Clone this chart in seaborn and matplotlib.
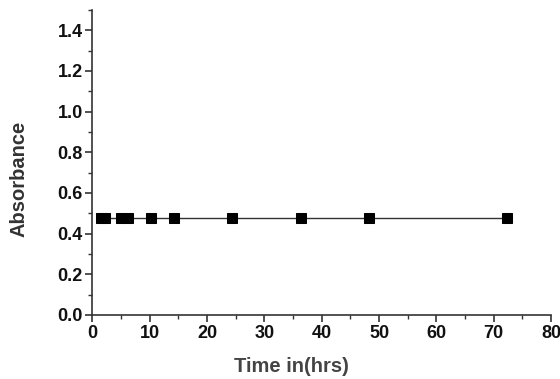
import matplotlib
matplotlib.use("Agg")
import matplotlib.pyplot as plt
import seaborn as sns
import pandas as pd
from matplotlib.ticker import MultipleLocator

time_hrs = [1.5, 2.2, 5.0, 6.2, 10.3, 14.2, 24.3, 36.3, 48.3, 72.3]
absorbance = [0.475, 0.475, 0.475, 0.475, 0.475, 0.475, 0.475, 0.475, 0.475, 0.475]
df = pd.DataFrame({"Time in(hrs)": time_hrs, "Absorbance": absorbance})

sns.set_style("ticks")
plt.rcParams["font.family"] = ["Liberation Sans", "DejaVu Sans"]

fig = plt.figure(figsize=(5.6, 3.79), dpi=100)
ax = fig.add_axes([0.165, 0.169, 0.819, 0.805])

sns.lineplot(data=df, x="Time in(hrs)", y="Absorbance", ax=ax, color="#333333",
             linewidth=1.0, marker="s", markersize=7.5, markerfacecolor="black",
             markeredgecolor="black", estimator=None, sort=True)

ax.set_xlim(0, 80)
ax.set_ylim(0, 1.5)
ax.xaxis.set_major_locator(MultipleLocator(10))
ax.xaxis.set_minor_locator(MultipleLocator(5))
ax.yaxis.set_minor_locator(MultipleLocator(0.1))
ax.set_yticks([0, 0.2, 0.4, 0.6, 0.8, 1.0, 1.2, 1.4])
ax.set_yticklabels(["0.0", "0.2", "0.4", "0.6", "0.8", "1.0", "1.2", "1.4"])

for s in ["top", "right"]:
    ax.spines[s].set_visible(False)
for s in ["left", "bottom"]:
    ax.spines[s].set_color("#333333")
    ax.spines[s].set_linewidth(1.2)

ax.tick_params(axis="both", which="major", length=5, width=1.2, color="#333333",
               labelsize=13, pad=2, labelcolor="#111111")
ax.tick_params(axis="both", which="minor", length=3, width=1.0, color="#333333")
for lab in ax.get_xticklabels() + ax.get_yticklabels():
    lab.set_fontweight("bold")

ax.set_xlabel("Time in(hrs)", fontsize=14.5, fontweight="bold", color="#444444")
ax.set_ylabel("Absorbance", fontsize=14.5, fontweight="bold", color="#333333")
ax.xaxis.set_label_coords(0.435, -0.138)
ax.yaxis.set_label_coords(-0.140, 0.446)

fig.savefig("out.png", dpi=100)
